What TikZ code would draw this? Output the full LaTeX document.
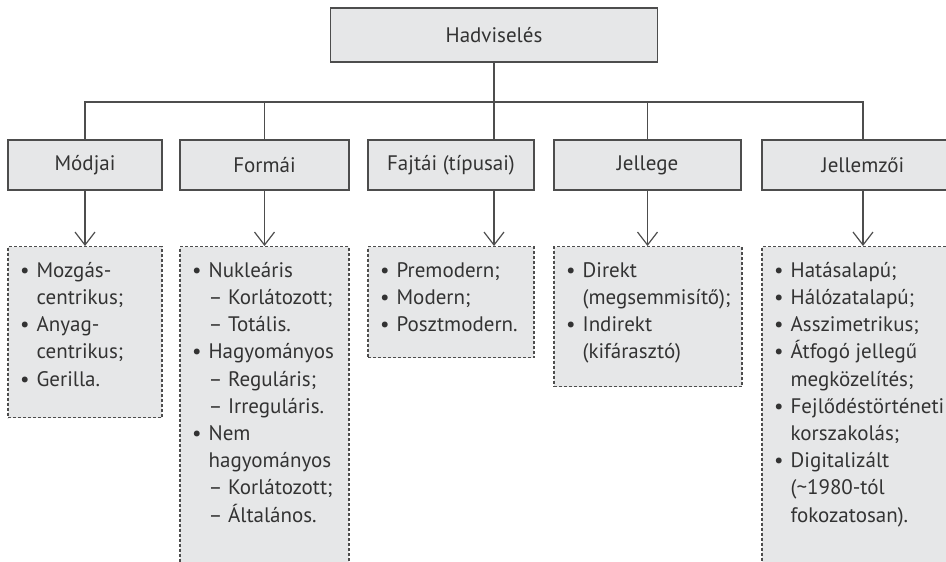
\documentclass[tikz,border=0pt]{standalone}
\usepackage{fontspec}
\setmainfont{PT Sans}
\usepackage{tikz}
\usetikzlibrary{%
  arrows.meta,%
  calc%
}
\definecolor{boxgray}{HTML}{E6E7E8}
\definecolor{linegray}{HTML}{4D4D4D}
\definecolor{textgray}{HTML}{333333}
\newcommand{\bl}{\makebox[29pt][l]{\hspace{12.5pt}•}}
\newcommand{\ind}{\hspace*{29pt}}
\tikzset{>={Straight Barb[length=13pt,width=20pt]}}
\tikzset{headbox/.style = {draw=linegray, fill=boxgray, line width=1.2pt,
      text=textgray, font=\fontsize{21}{27.2}\selectfont, inner sep=0pt},%
    listbox/.style = {draw=linegray, fill=boxgray, line width=1.1pt,
      dash pattern=on 3pt off 2pt, anchor=north, inner sep=0pt},%
    listtext/.style = {anchor=north west, align=left, inner sep=0pt,
      text=textgray, font=\fontsize{21}{27.2}\selectfont},%
    conn/.style = {draw=linegray, line width=1.2pt}}

\begin{document}
\begin{tikzpicture}[x=1pt,y=-1pt]
  \useasboundingbox (0,0) rectangle (946,562);
  \clip (0,0) rectangle (946,562);
  \coordinate (bar) at (0,102);
  % boxes
  \node[headbox, minimum width=327pt, minimum height=54pt] (top) at (494,35) {Hadviselés};
  \node[headbox, minimum width=154pt, minimum height=50pt] (c1) at (85,165) {Módjai};
  \node[headbox, minimum width=169pt, minimum height=50pt] (c2) at (264.5,165) {Formái};
  \node[headbox, minimum width=166pt, minimum height=50pt] (c3) at (451,165) {Fajtái (típusai)};
  \node[headbox, minimum width=187pt, minimum height=50pt] (c4) at (647.5,165) {Jellege};
  \node[headbox, minimum width=202pt, minimum height=50pt] (c5) at (863,165) {Jellemzői};
  \node[listbox, minimum width=154pt, minimum height=171pt] (l1) at (85,246) {};
  \node[listbox, minimum width=169pt, minimum height=340pt] (l2) at (264.5,246) {};
  \node[listbox, minimum width=166pt, minimum height=111pt] (l3) at (451,246) {};
  \node[listbox, minimum width=188pt, minimum height=140pt] (l4) at (648,246) {};
  \node[listbox, minimum width=202pt, minimum height=340pt] (l5) at (863,246) {};
  % lists
  \node[listtext] (t1) at ([yshift=-12pt]l1.north west) {\strut\bl Mozgás-\\ \ind centrikus;\\
    \bl Anyag-\\ \ind centrikus;\\ \bl Gerilla.};
  \node[listtext] (t2) at ([yshift=-12pt]l2.north west) {\strut\bl Nukleáris\\ \ind – Korlátozott;\\
    \ind – Totális.\\ \bl Hagyományos\\ \ind – Reguláris;\\ \ind – Irreguláris.\\
    \bl Nem\\ \ind hagyományos\\ \ind – Korlátozott;\\ \ind – Általános.};
  \node[listtext] (t3) at ([yshift=-12pt]l3.north west) {\strut\bl Premodern;\\ \bl Modern;\\
    \bl Posztmodern.};
  \node[listtext] (t4) at ([yshift=-12pt]l4.north west) {\strut\bl Direkt\\ \ind (megsemmisítő);\\
    \bl Indirekt\\ \ind (kifárasztó)};
  \node[listtext] (t5) at ([yshift=-12pt]l5.north west) {\strut\bl Hatásalapú;\\ \bl Hálózatalapú;\\
    \bl Asszimetrikus;\\ \bl Átfogó jellegű\\ \ind megközelítés;\\ \bl Fejlődéstörténeti\\
    \ind korszakolás;\\ \bl Digitalizált\\ \ind (\textasciitilde 1980-tól\\ \ind fokozatosan).};
  % tree
  \draw[conn] (top.south) -- (top.south |- c3.north);
  \draw[conn] (c1.north) -- (c1.north |- bar) -- (c5.north |- bar) -- (c5.north);
  \draw[conn] (c2.north) -- (c2.north |- bar);
  \draw[conn] (c4.north) -- (c4.north |- bar);
  \draw[conn,->] (c1) -- (l1);
  \draw[conn,->] (c2) -- (l2);
  \draw[conn,->] (top.south |- c3.south) -- (top.south |- l3.north);
  \draw[conn,->] (c4.south) -- (c4.south |- l4.north);
  \draw[conn,->] (c5) -- (l5);
\end{tikzpicture}
\end{document}
